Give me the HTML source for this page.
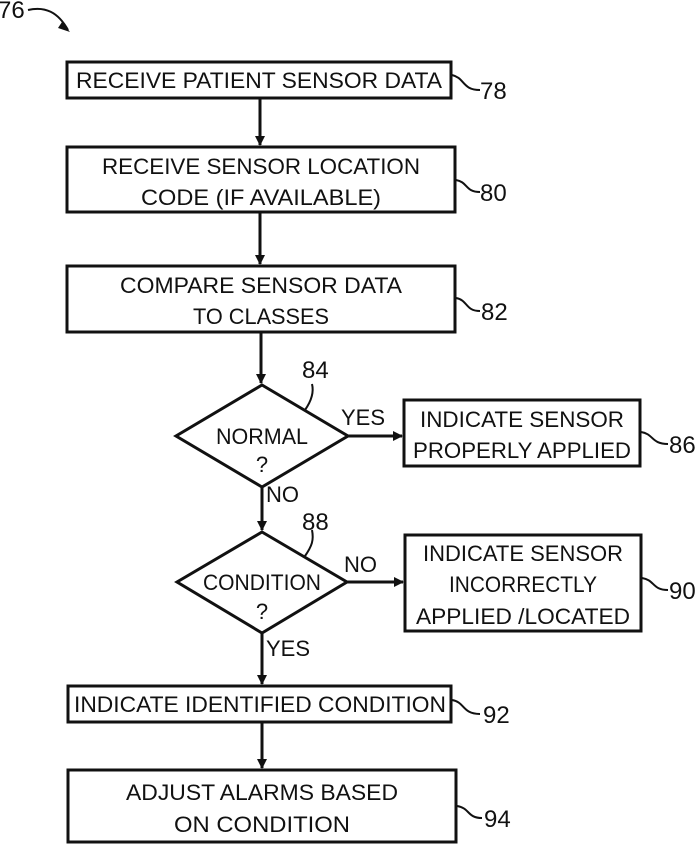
<!DOCTYPE html>
<html><head><style>body{margin:0;background:#fff}svg{display:block}text{font-family:"Liberation Sans",sans-serif;font-size:22px;fill:#111}</style></head>
<body>
<svg width="698" height="845" viewBox="0 0 698 845" xmlns="http://www.w3.org/2000/svg">
<defs><marker id="a" markerWidth="10" markerHeight="10" refX="9" refY="5" orient="auto" markerUnits="userSpaceOnUse"><path d="M0,0 L10,5 L0,10 Z" fill="#111"/></marker></defs>
<g fill="none" stroke="#111" stroke-width="3">
<rect x="67" y="62" width="384" height="36"/>
<rect x="67" y="147" width="388" height="65"/>
<rect x="67" y="266" width="388" height="66"/>
<polygon points="262,385 348,436 262,487 176,436"/>
<rect x="404" y="400" width="236" height="66"/>
<polygon points="262,532 347,582 262,633 177,582"/>
<rect x="405" y="535" width="236" height="96"/>
<rect x="68" y="686" width="383" height="36"/>
<rect x="68" y="770" width="388" height="72"/>
</g>
<g stroke="#111" stroke-width="3" fill="none">
<line x1="260" y1="98" x2="260" y2="145" marker-end="url(#a)"/>
<line x1="260" y1="212" x2="260" y2="264" marker-end="url(#a)"/>
<line x1="261" y1="332" x2="261" y2="383" marker-end="url(#a)"/>
<line x1="348" y1="436" x2="402" y2="436" marker-end="url(#a)"/>
<line x1="262" y1="487" x2="262" y2="530" marker-end="url(#a)"/>
<line x1="347" y1="582" x2="403" y2="582" marker-end="url(#a)"/>
<line x1="262" y1="633" x2="262" y2="684" marker-end="url(#a)"/>
<line x1="262" y1="722" x2="262" y2="768" marker-end="url(#a)"/>
</g>
<g stroke="#111" stroke-width="2" fill="none">
<path d="M452,75 C465,78 462,90 480,90"/>
<path d="M456,180 C468,182 465,192 480,192"/>
<path d="M456,298 C468,300 465,311 480,311"/>
<path d="M641,432 C654,434 651,444 668,444"/>
<path d="M642,578 C655,580 652,590 668,590"/>
<path d="M452,700 C465,702 462,714 480,714"/>
<path d="M457,806 C470,808 467,818 482,818"/>
<path d="M305,410 C312,400 314,392 312,384"/>
<path d="M305,556 C312,546 314,540 312,530"/>
<path d="M28,10 C45,6 58,12 68,30"/>
</g>
<path d="M62,22 L70,32 L58,28 Z" fill="#111"/>
<g text-anchor="middle">
<text x="259" y="88" textLength="366" lengthAdjust="spacingAndGlyphs">RECEIVE PATIENT SENSOR DATA</text>
<text x="261" y="174" textLength="318" lengthAdjust="spacingAndGlyphs">RECEIVE SENSOR LOCATION</text>
<text x="261" y="205" textLength="240" lengthAdjust="spacingAndGlyphs">CODE (IF AVAILABLE)</text>
<text x="261" y="293" textLength="282" lengthAdjust="spacingAndGlyphs">COMPARE SENSOR DATA</text>
<text x="261" y="324" textLength="136" lengthAdjust="spacingAndGlyphs">TO CLASSES</text>
<text x="262" y="444" textLength="92" lengthAdjust="spacingAndGlyphs">NORMAL</text>
<text x="262" y="472">?</text>
<text x="522" y="427" textLength="204" lengthAdjust="spacingAndGlyphs">INDICATE SENSOR</text>
<text x="522" y="458" textLength="218" lengthAdjust="spacingAndGlyphs">PROPERLY APPLIED</text>
<text x="262" y="590" textLength="118" lengthAdjust="spacingAndGlyphs">CONDITION</text>
<text x="262" y="619">?</text>
<text x="523" y="561" textLength="200" lengthAdjust="spacingAndGlyphs">INDICATE SENSOR</text>
<text x="523" y="592" textLength="148" lengthAdjust="spacingAndGlyphs">INCORRECTLY</text>
<text x="523" y="624" textLength="214" lengthAdjust="spacingAndGlyphs">APPLIED /LOCATED</text>
<text x="260" y="712" textLength="372" lengthAdjust="spacingAndGlyphs">INDICATE IDENTIFIED CONDITION</text>
<text x="262" y="800" textLength="272" lengthAdjust="spacingAndGlyphs">ADJUST ALARMS BASED</text>
<text x="262" y="832" textLength="176" lengthAdjust="spacingAndGlyphs">ON CONDITION</text>
</g>
<g font-size="24">
<text x="480" y="99" style="font-size:24px">78</text>
<text x="480" y="201" style="font-size:24px">80</text>
<text x="481" y="320" style="font-size:24px">82</text>
<text x="669" y="453" style="font-size:24px">86</text>
<text x="669" y="599" style="font-size:24px">90</text>
<text x="483" y="723" style="font-size:24px">92</text>
<text x="484" y="827" style="font-size:24px">94</text>
<text x="302" y="378" style="font-size:24px">84</text>
<text x="302" y="530" style="font-size:24px">88</text>
<text x="341" y="425">YES</text>
<text x="266" y="502">NO</text>
<text x="344" y="572">NO</text>
<text x="266" y="656">YES</text>
<text x="-2" y="18" style="font-size:24px">76</text>
</g>
</svg>
</body></html>
